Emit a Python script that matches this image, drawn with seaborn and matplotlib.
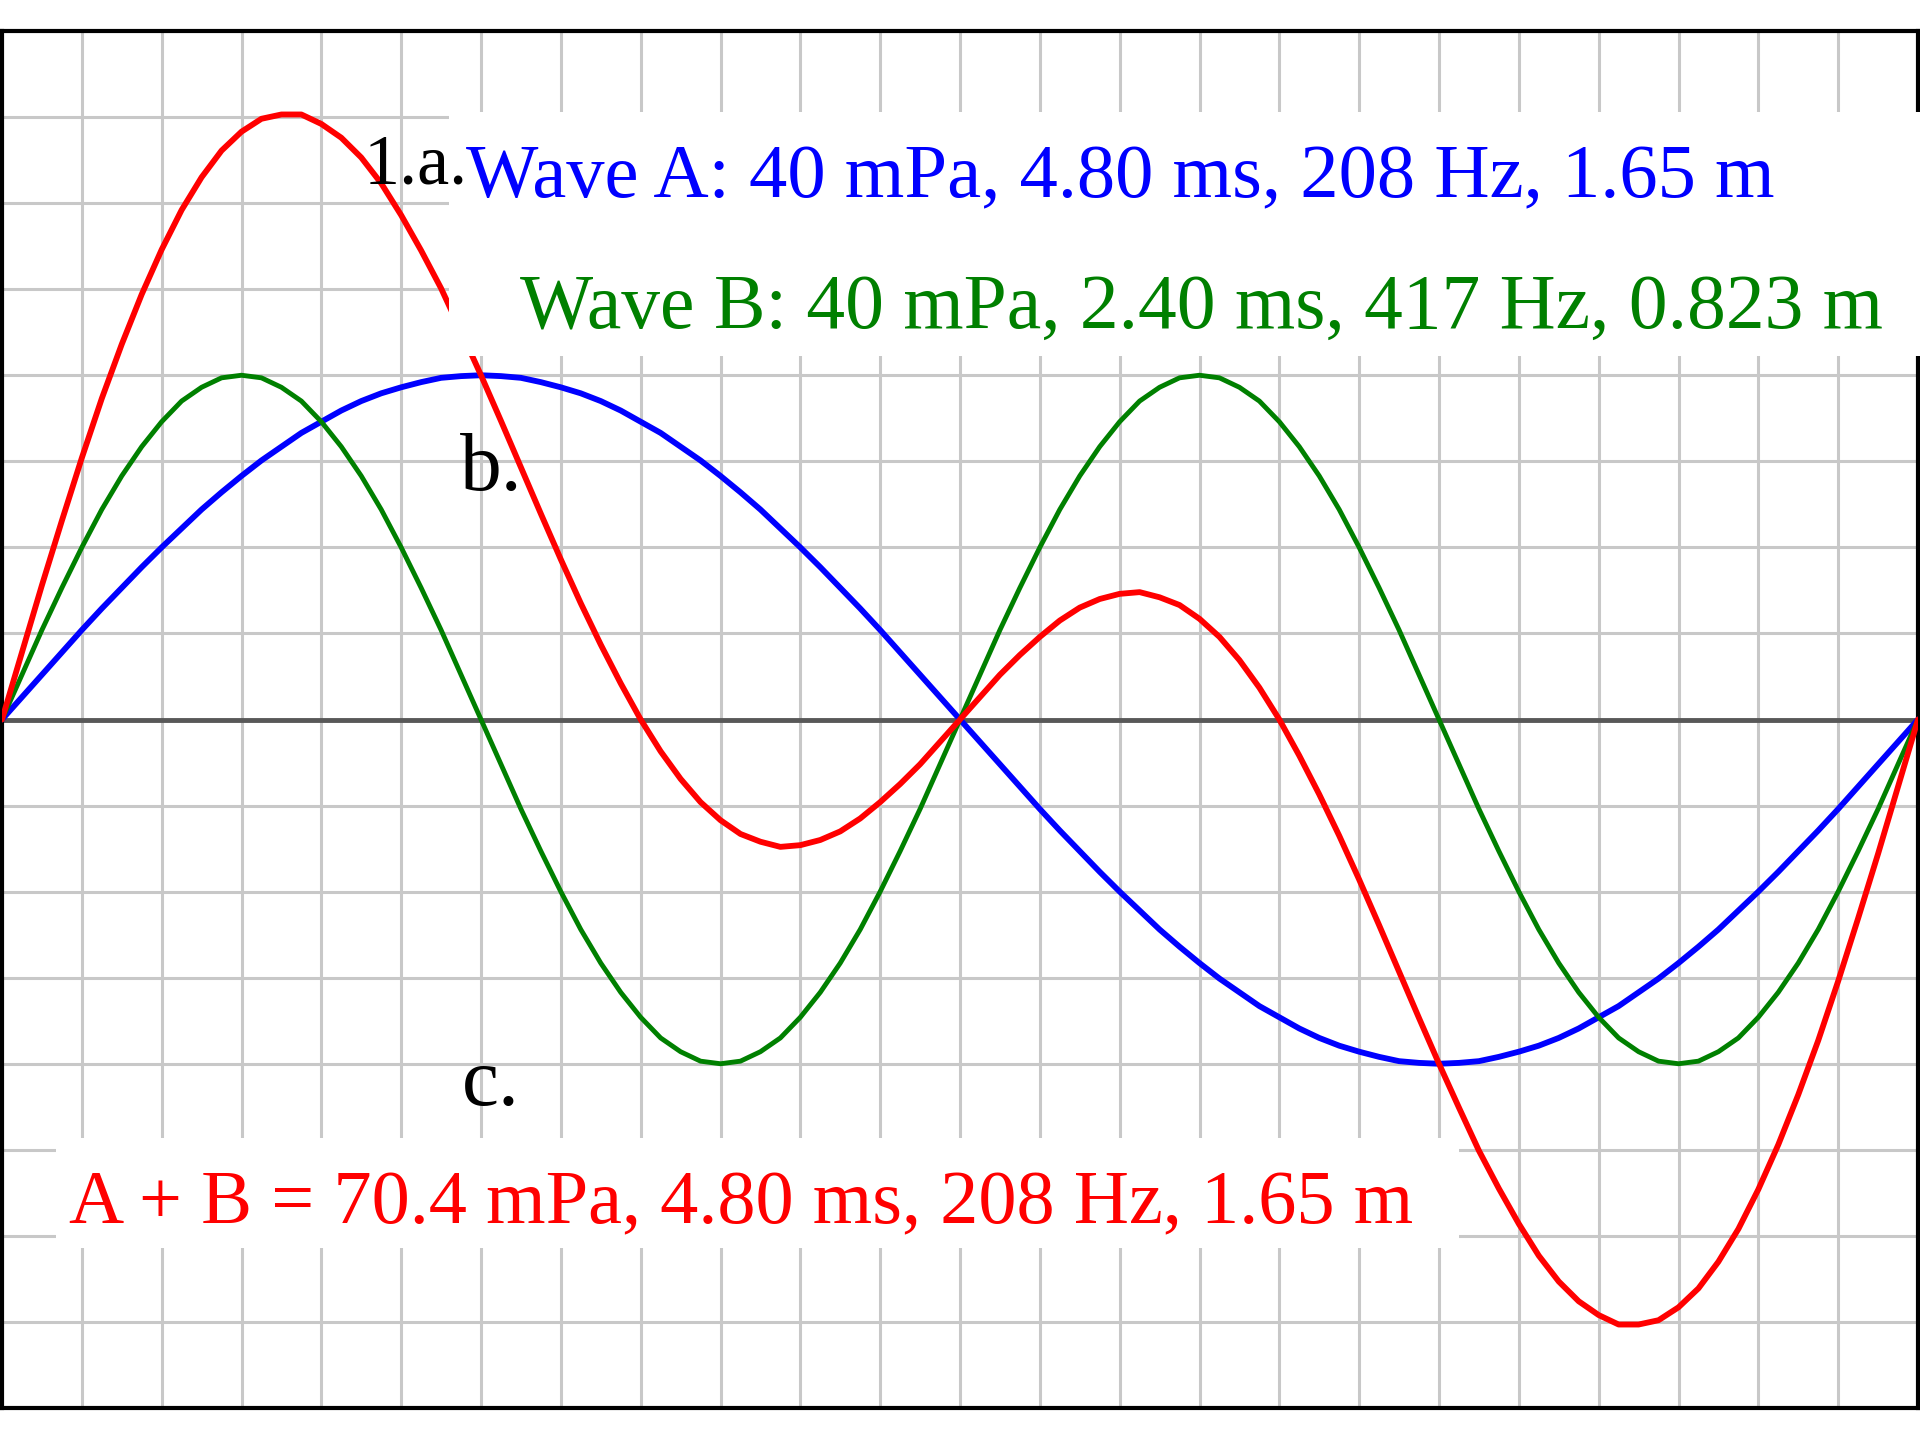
import numpy as np
import pandas as pd
import matplotlib
matplotlib.use("Agg")
import matplotlib.pyplot as plt
from matplotlib.patches import Rectangle
import seaborn as sns

# ---- data ----
# sample times in ms (every 0.05 ms over 4.80 ms)
time_ms = np.round(np.arange(97) * 0.05, 2)

# Wave A pressure (mPa): 40 mPa, one cycle over 4.80 ms
wave_a = [0.0, 2.6, 5.2, 7.8, 10.4, 12.9, 15.3, 17.7, 20.0, 22.2, 24.4, 26.4, 28.3,
          30.1, 31.7, 33.3, 34.6, 35.9, 37.0, 37.9, 38.6, 39.2, 39.7, 39.9, 40.0,
          39.9, 39.7, 39.2, 38.6, 37.9, 37.0, 35.9, 34.6, 33.3, 31.7, 30.1, 28.3,
          26.4, 24.4, 22.2, 20.0, 17.7, 15.3, 12.9, 10.4, 7.8, 5.2, 2.6, 0.0,
          -2.6, -5.2, -7.8, -10.4, -12.9, -15.3, -17.7, -20.0, -22.2, -24.4, -26.4,
          -28.3, -30.1, -31.7, -33.3, -34.6, -35.9, -37.0, -37.9, -38.6, -39.2,
          -39.7, -39.9, -40.0,
          -39.9, -39.7, -39.2, -38.6, -37.9, -37.0, -35.9, -34.6, -33.3, -31.7,
          -30.1, -28.3, -26.4, -24.4, -22.2, -20.0, -17.7, -15.3, -12.9, -10.4,
          -7.8, -5.2, -2.6, 0.0]

# Wave B pressure (mPa): 40 mPa, two cycles over 4.80 ms
wave_b = [0.0, 5.2, 10.4, 15.3, 20.0, 24.4, 28.3, 31.7, 34.6, 37.0, 38.6, 39.7, 40.0,
          39.7, 38.6, 37.0, 34.6, 31.7, 28.3, 24.4, 20.0, 15.3, 10.4, 5.2, 0.0,
          -5.2, -10.4, -15.3, -20.0, -24.4, -28.3, -31.7, -34.6, -37.0, -38.6, -39.7, -40.0,
          -39.7, -38.6, -37.0, -34.6, -31.7, -28.3, -24.4, -20.0, -15.3, -10.4, -5.2, 0.0,
          5.2, 10.4, 15.3, 20.0, 24.4, 28.3, 31.7, 34.6, 37.0, 38.6, 39.7, 40.0,
          39.7, 38.6, 37.0, 34.6, 31.7, 28.3, 24.4, 20.0, 15.3, 10.4, 5.2, 0.0,
          -5.2, -10.4, -15.3, -20.0, -24.4, -28.3, -31.7, -34.6, -37.0, -38.6, -39.7, -40.0,
          -39.7, -38.6, -37.0, -34.6, -31.7, -28.3, -24.4, -20.0, -15.3, -10.4, -5.2, 0.0]

# Sum wave A + B
wave_sum = list(np.array(wave_a) + np.array(wave_b))

label_a = "Wave A: 40 mPa, 4.80 ms, 208 Hz, 1.65 m"
label_b = "Wave B: 40 mPa, 2.40 ms, 417 Hz, 0.823 m"
label_sum = "A + B = 70.4 mPa, 4.80 ms, 208 Hz, 1.65 m"
part_labels = ["1.a.", "b.", "c."]

# ---- figure ----
sns.set_theme(style="white")
plt.rcParams["font.family"] = ["Liberation Serif", "DejaVu Serif"]

W, H = 1920, 1440
fig = plt.figure(figsize=(W / 100, H / 100), dpi=100)
fig.patch.set_facecolor("white")

def fx(px):
    return px / W

def fy(py):
    return 1 - py / H

ax = fig.add_axes([fx(2), fy(1408), fx(1918) - fx(2), fy(31) - fy(1408)])
ax.set_facecolor("white")

df = pd.DataFrame({"t": time_ms, "A": wave_a, "B": wave_b, "S": wave_sum})

# grid
for gx in np.round(np.arange(0.2, 4.8, 0.2), 2):
    ax.axvline(gx, color="#c8c8c8", lw=2.2, zorder=0)
for gy in np.arange(-70, 80, 10):
    if gy != 0:
        ax.axhline(gy, color="#c8c8c8", lw=2.2, zorder=0)
ax.axhline(0, color="#585858", lw=3.5, zorder=1)

sns.lineplot(data=df, x="t", y="A", color="#0000ff", lw=4.2, ax=ax, sort=False,
             estimator=None, zorder=3)
sns.lineplot(data=df, x="t", y="B", color="#008000", lw=3.5, ax=ax, sort=False,
             estimator=None, zorder=4)
sns.lineplot(data=df, x="t", y="S", color="#ff0000", lw=4.2, ax=ax, sort=False,
             estimator=None, zorder=5)

ax.set_xlim(0, 4.8)
ax.set_ylim(-80, 80)
ax.set_xticks([])
ax.set_yticks([])
ax.set_xlabel("")
ax.set_ylabel("")
for s in ax.spines.values():
    s.set_visible(True)
    s.set_color("black")
    s.set_linewidth(3.0)

# white boxes behind the texts
fig.patches.append(Rectangle((fx(449), fy(356)), fx(1920) - fx(449), fy(112) - fy(356),
                             transform=fig.transFigure, facecolor="white",
                             edgecolor="none", zorder=2))
fig.patches.append(Rectangle((fx(56), fy(1248)), fx(1459) - fx(56), fy(1138) - fy(1248),
                             transform=fig.transFigure, facecolor="white",
                             edgecolor="none", zorder=2))

fig.text(fx(466), fy(197), label_a, color="#0000ff", fontsize=55.2, va="baseline", zorder=4)
fig.text(fx(520), fy(328), label_b, color="#008000", fontsize=55.8, va="baseline", zorder=4)
fig.text(fx(69), fy(1223), label_sum, color="#ff0000", fontsize=55, va="baseline", zorder=4)
fig.text(fx(364), fy(183), part_labels[0], color="black", fontsize=52, va="baseline", zorder=4)
fig.text(fx(460), fy(490), part_labels[1], color="black", fontsize=60, va="baseline", zorder=4)
fig.text(fx(462), fy(1105), part_labels[2], color="black", fontsize=60, va="baseline", zorder=4)

fig.savefig("out.png", dpi=100, facecolor="white")
